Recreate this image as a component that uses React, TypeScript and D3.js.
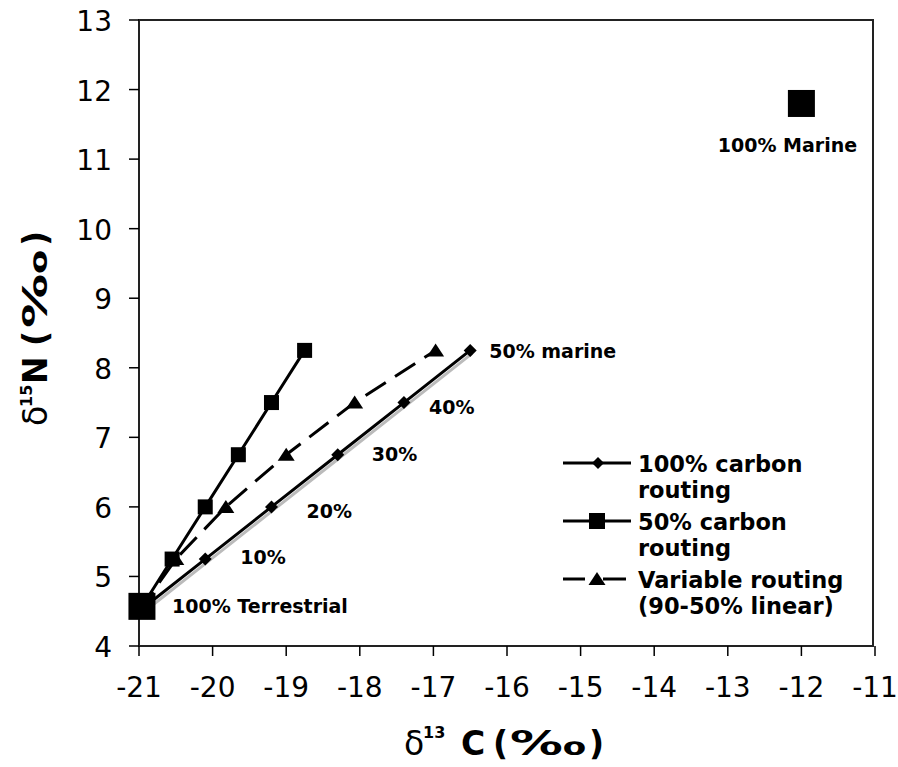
import React from "react";
import * as d3 from "d3";

const xTicks = [-21, -20, -19, -18, -17, -16, -15, -14, -13, -12, -11];
const yTicks = [4, 5, 6, 7, 8, 9, 10, 11, 12, 13];

const carbon100X = [-21, -20.1, -19.2, -18.3, -17.4, -16.5];
const carbon100Y = [4.5, 5.25, 6.0, 6.75, 7.5, 8.25];
const carbon50X = [-21, -20.55, -20.1, -19.65, -19.2, -18.75];
const carbon50Y = [4.5, 5.25, 6.0, 6.75, 7.5, 8.25];
const variableX = [-21, -20.5, -19.82, -19.0, -18.07, -16.97];
const variableY = [4.5, 5.25, 6.0, 6.75, 7.5, 8.25];

const endX = [-20.96, -12];
const endY = [4.57, 11.8];
const endLabels = ["100% Terrestrial", "100% Marine"];

const pctLabels = ["10%", "20%", "30%", "40%", "50% marine"];

const legendLabels = [
  ["100% carbon", "routing"],
  ["50% carbon", "routing"],
  ["Variable routing", "(90-50% linear)"],
];

const W = 898, H = 767;
const left = 139, right = 873, top = 20, bottom = 646;
const font = "Verdana, 'DejaVu Sans', sans-serif";

export default function App() {
  const x = d3.scaleLinear().domain([-21, -11]).range([139, 875]);
  const y = d3.scaleLinear().domain([4, 13]).range([bottom, top]);
  const line = d3.line<[number, number]>().x(d => x(d[0])).y(d => y(d[1]));
  const pts = (xs: number[], ys: number[]) => xs.map((v, i) => [v, ys[i]] as [number, number]);
  const p100 = pts(carbon100X, carbon100Y);
  const p50 = pts(carbon50X, carbon50Y);
  const pv = pts(variableX, variableY);

  const diamond = (cx: number, cy: number, k: string | number, s = 6.5) => (
    <path key={k} d={`M${cx},${cy - s}L${cx + s},${cy}L${cx},${cy + s}L${cx - s},${cy}Z`} fill="#000" />
  );
  const square = (cx: number, cy: number, k: string | number, s = 7.5) => (
    <rect key={k} x={cx - s} y={cy - s} width={2 * s} height={2 * s} fill="#000" />
  );
  const triangle = (cx: number, cy: number, k: string | number, s = 8.5) => (
    <path key={k} d={`M${cx},${cy - 7}L${cx + s},${cy + 6}L${cx - s},${cy + 6}Z`} fill="#000" />
  );

  const pctOffsets: [number, number][] = [[35, 5], [35, 11], [34, 6], [25, 11], [19, 8]];

  const legendY = [463, 521, 579];
  const dash = "24,11";

  return (
    <svg width={W} height={H} style={{ display: "block", position: "absolute", left: 0, top: 0 }} fontFamily={font}>
      <rect width={W} height={H} fill="#fff" />
      <rect x={left} y={top} width={right - left} height={bottom - top} fill="none" stroke="#222" strokeWidth={2} />
      {xTicks.map(t => (
        <g key={"x" + t}>
          <line x1={x(t)} x2={x(t)} y1={bottom} y2={bottom + 10} stroke="#000" strokeWidth={1.5} />
          <text x={x(t)} y={697} textAnchor="middle" fontSize={28}>{t}</text>
        </g>
      ))}
      {yTicks.map(t => (
        <g key={"y" + t}>
          <line x1={left - 10} x2={left} y1={y(t)} y2={y(t)} stroke="#000" strokeWidth={1.5} />
          <text x={112} y={y(t) + 11} textAnchor="end" fontSize={28}>{t}</text>
        </g>
      ))}
      {/* x title */}
      <g fontSize={33} fontWeight="bold">
        <text x={404} y={755} fontWeight="normal">δ</text>
        <text x={423} y={738} fontSize={16}>13</text>
        <text x={461} y={755}>C</text>
        <text x={493} y={755}>(</text>
        <text x={510} y={755} textLength={76} lengthAdjust="spacingAndGlyphs">‰</text>
        <text x={604} y={755} textAnchor="end">)</text>
      </g>
      {/* y title */}
      <g transform="translate(47,0) rotate(-90)" fontSize={33} fontWeight="bold">
        <text x={-426} y={0} fontWeight="normal">δ</text>
        <text x={-407} y={-15} fontSize={16}>15</text>
        <text x={-384} y={0}>N</text>
        <text x={-346} y={0}>(</text>
        <text x={-328} y={0} textLength={78} lengthAdjust="spacingAndGlyphs">‰</text>
        <text x={-231} y={0} textAnchor="end">)</text>
      </g>

      <path d={line(p100) || ""} fill="none" stroke="#bbb" strokeWidth={3} transform="translate(2,3)" />
      <path d={line(p50) || ""} fill="none" stroke="#000" strokeWidth={3} />
      <path d={line(pv) || ""} fill="none" stroke="#000" strokeWidth={3} strokeDasharray={dash} />
      <path d={line(p100) || ""} fill="none" stroke="#000" strokeWidth={3} />
      {p100.slice(1).map((p, i) => diamond(x(p[0]), y(p[1]), "d" + i))}
      {p50.slice(1).map((p, i) => square(x(p[0]), y(p[1]), "s" + i))}
      {pv.slice(1).map((p, i) => triangle(x(p[0]), y(p[1]), "t" + i))}

      {endX.map((v, i) => square(x(v), y(endY[i]), "e" + i, 13.5))}
      <text x={172} y={613} fontSize={19} fontWeight="bold">{endLabels[0]}</text>
      <text x={x(endX[1]) - 14} y={152} textAnchor="middle" fontSize={19} fontWeight="bold">{endLabels[1]}</text>

      {pctLabels.map((l, i) => (
        <text key={l} x={x(carbon100X[i + 1]) + pctOffsets[i][0]} y={y(carbon100Y[i + 1]) + pctOffsets[i][1]} fontSize={19} fontWeight="bold">{l}</text>
      ))}

      {legendLabels.map((ls, i) => (
        <g key={"lg" + i}>
          {i === 2 ? (
            <g>
              <line x1={563} x2={585} y1={legendY[i]} y2={legendY[i]} stroke="#000" strokeWidth={3} />
              <line x1={603} x2={626} y1={legendY[i]} y2={legendY[i]} stroke="#000" strokeWidth={3} />
            </g>
          ) : (
            <line x1={563} x2={631} y1={legendY[i]} y2={legendY[i]} stroke="#000" strokeWidth={3} />
          )}
          {i === 0 ? diamond(598, legendY[i], "ld", 6) : i === 1 ? square(597, legendY[i], "ls", 8) : triangle(597, legendY[i], "lt", 8.5)}
          <text x={638} y={legendY[i] + 9} fontSize={22.5} fontWeight="bold">{ls[0]}</text>
          <text x={638} y={legendY[i] + 35} fontSize={22.5} fontWeight="bold">{ls[1]}</text>
        </g>
      ))}
    </svg>
  );
}
